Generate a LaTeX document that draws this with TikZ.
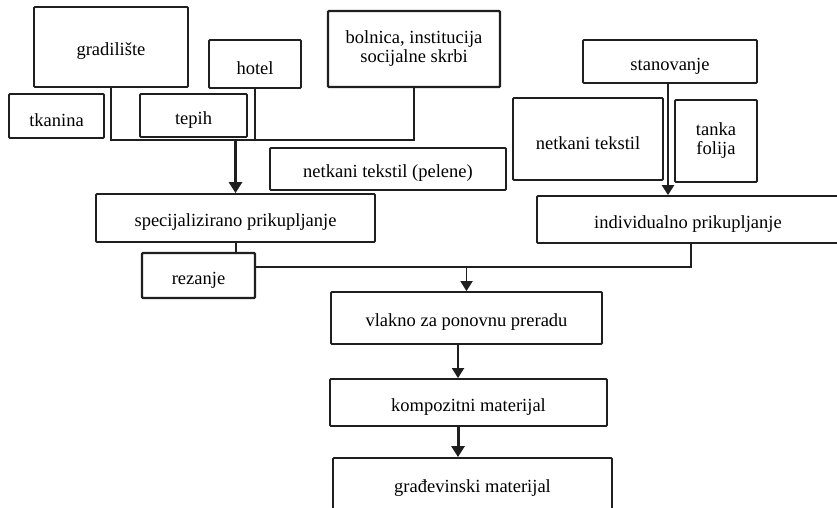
\documentclass[tikz,border=0pt]{standalone}
\usepackage{fontspec}
\setmainfont{Liberation Serif}
\usetikzlibrary{arrows.meta}
\begin{document}
\begin{tikzpicture}[x=1pt,y=-1pt,
  box/.style={draw=black!88,line width=1.8pt,rounded corners=1pt,inner sep=0pt,
    align=center,font=\fontsize{18.5}{19}\selectfont,
    execute at begin node={\rule{0pt}{21pt}}},
  link/.style={draw=black!88,line width=1.8pt},
  feed/.style={link,-{Triangle[width=12pt,length=10pt]}},
  boldfeed/.style={link,line width=3pt,-{Triangle[width=13pt,length=11pt]}}]
\useasboundingbox (0,0) rectangle (837,507);
\clip (0,0) rectangle (837,507);

% sources
\node[box,minimum width=154pt,minimum height=80pt] (grad) at (111,47) {gradilište};
\node[box,minimum width=92pt,minimum height=48pt] (hotel) at (255,64) {hotel};
\node[box,line width=2.2pt,minimum width=172pt,minimum height=76pt] (bol) at (414,49)
  {bolnica, institucija\\socijalne skrbi};
\node[box,minimum width=95pt,minimum height=44pt] (tkan) at (56.5,116) {tkanina};
\node[box,minimum width=107pt,minimum height=43pt] (tepih) at (193.5,115.5) {tepih};
\node[box,minimum width=236pt,minimum height=42pt] (pel) at (388,169) {netkani tekstil (pelene)};
\node[box,minimum width=174pt,minimum height=43pt] (stan) at (670,61.5) {stanovanje};
\node[box,minimum width=150pt,minimum height=82pt] (netk) at (588,139) {netkani tekstil};
\node[box,minimum width=82pt,minimum height=82pt] (fol) at (716,141) {tanka\\folija};

% collection
\node[box,minimum width=279pt,minimum height=48pt] (spec) at (235.5,218) {specijalizirano prikupljanje};
\node[box,minimum width=302pt,minimum height=47pt] (indiv) at (688,219.5) {individualno prikupljanje};
\node[box,line width=2.2pt,minimum width=113pt,minimum height=45pt] (rez) at (198.5,275.5) {rezanje};

% processing chain
\node[box,minimum width=271pt,minimum height=52pt] (vlak) at (466.5,318) {vlakno za ponovnu preradu};
\node[box,minimum width=277pt,minimum height=47pt] (komp) at (468.5,402.5) {kompozitni materijal};
\node[box,minimum width=279pt,minimum height=52pt] (gmat) at (472.5,484) {građevinski materijal};

% helper levels and lines
\coordinate (bus) at (0,140);
\coordinate (merge) at (0,267);
\coordinate (spine) at (458,0);

\draw[link] (grad.south) |- (bol.south |- bus) -- (bol.south);
\draw[link] (hotel.south) -- (hotel.south |- bus);
\draw[boldfeed] (spec.north |- bus) -- (spec.north);
\draw[link] ([xshift=0.5pt]spec.south) -- ([xshift=0.5pt]spec.south |- rez.north);
\draw[link,line width=2.6pt,-{Triangle[width=12pt,length=10pt]}] ([xshift=-2pt]stan.south) -- ([xshift=-2pt]stan.south |- indiv.north);
\draw[link] (rez.east |- merge) -| ([xshift=3pt]indiv.south);
\draw[feed] (vlak.north |- merge) -- (vlak.north);
\draw[feed] (vlak.south -| spine) -- (komp.north -| spine);
\draw[boldfeed] (komp.south -| spine) -- (gmat.north -| spine);
\end{tikzpicture}
\end{document}
